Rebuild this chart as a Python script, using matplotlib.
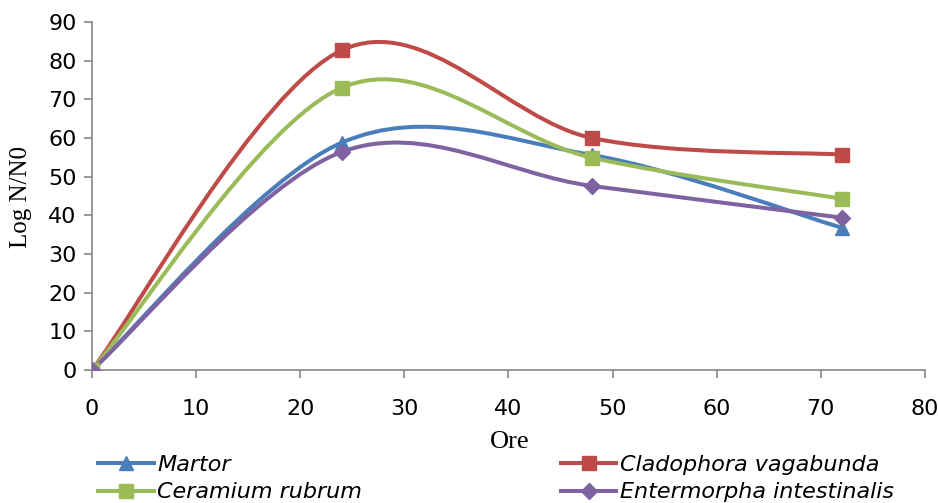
import numpy as np
from matplotlib import pyplot as plt
from matplotlib.path import Path
from matplotlib.patches import PathPatch
from matplotlib.lines import Line2D

hours = [0, 24, 48, 72]
martor = [0, 58.8, 55.6, 36.8]
cladophora = [0, 82.7, 60.0, 55.7]
ceramium = [0, 73.0, 54.9, 44.3]
entermorpha = [0, 56.4, 47.6, 39.4]

series = [
    ("Martor", martor, "#4A7EBB", "^"),
    ("Cladophora vagabunda", cladophora, "#BE4B48", "s"),
    ("Ceramium rubrum", ceramium, "#9BBB59", "s"),
    ("Entermorpha intestinalis", entermorpha, "#7F62A1", "D"),
]


def smooth_path(xs, ys):
    # spreadsheet-style smoothed line: Bezier segments with Catmull-Rom handles
    pts = np.column_stack([xs, ys]).astype(float)
    n = len(pts)
    verts = [pts[0]]
    codes = [Path.MOVETO]
    for i in range(n - 1):
        p0 = pts[i - 1] if i > 0 else pts[i]
        p1 = pts[i]
        p2 = pts[i + 1]
        p3 = pts[i + 2] if i + 2 < n else pts[i + 1]
        c1 = p1 + (p2 - p0) / 6.0
        c2 = p2 - (p3 - p1) / 6.0
        verts += [c1, c2, p2]
        codes += [Path.CURVE4] * 3
    return Path(verts, codes)


fig = plt.figure(figsize=(9.38, 5.03), dpi=100)
ax = fig.add_axes([0.098, 0.2644, 0.888, 0.692])

handles = {}
for name, vals, col, mk in series:
    patch = PathPatch(smooth_path(hours, vals), facecolor="none", edgecolor=col,
                      lw=2.9, capstyle="round", joinstyle="round", zorder=2)
    ax.add_patch(patch)
    ms = 10 if mk != "D" else 8.5
    ax.plot(hours, vals, linestyle="none", marker=mk, color=col, markersize=ms,
            markeredgecolor=col, zorder=3)
    handles[name] = Line2D([], [], color=col, lw=2.9, marker=mk, markersize=ms)

ax.set_xticks(range(0, 81, 10))
ax.set_yticks(range(0, 91, 10))
ax.set_xlim(-0.01, 80)
ax.set_ylim(0, 90)
for s in ["top", "right"]:
    ax.spines[s].set_visible(False)
for s in ["left", "bottom"]:
    ax.spines[s].set_color("#868686")
    ax.spines[s].set_linewidth(1.2)
ax.tick_params(axis="both", direction="out", color="#868686", length=6, width=1.2,
               labelsize=16)
ax.tick_params(axis="x", pad=15)
ax.tick_params(axis="y", pad=5)

fig.text(0.022, 0.609, "Log N/N0", rotation=90, ha="center", va="center",
         fontsize=18, family="Liberation Serif")
fig.text(0.543, 0.122, "Ore", ha="center", va="center",
         fontsize=19, family="Liberation Serif")

legend_font = {"style": "italic", "size": 16}
left_names = ["Martor", "Ceramium rubrum"]
right_names = ["Cladophora vagabunda", "Entermorpha intestinalis"]
for names, x0 in [(left_names, 0.105), (right_names, 0.598)]:
    fig.legend([handles[n] for n in names], names, loc="upper left",
               bbox_to_anchor=(x0, 0.095), frameon=False, handlelength=2.5,
               handletextpad=0.15, labelspacing=0.32, borderpad=0,
               borderaxespad=0, prop=legend_font)

fig.savefig("out.png", dpi=100)
